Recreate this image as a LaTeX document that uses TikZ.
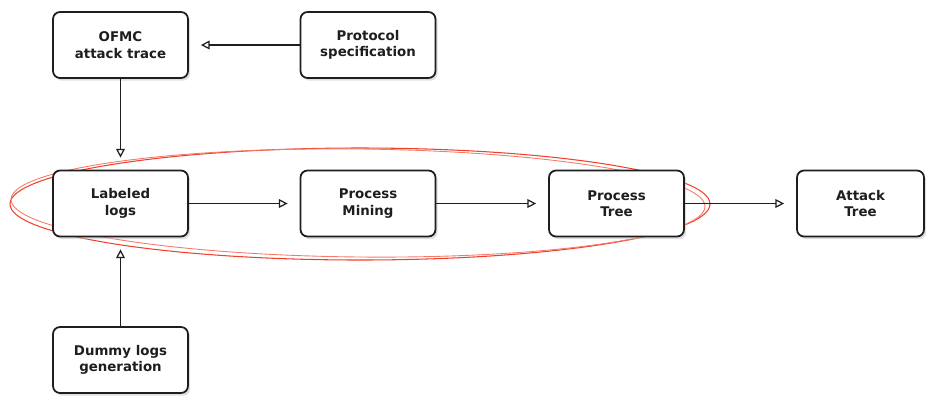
\documentclass[tikz,border=0pt]{standalone}
\usepackage{fontspec}
\setmainfont{DejaVu Sans}
\usetikzlibrary{arrows.meta, shadows}
\definecolor{PipeRed}{HTML}{F0412B}
\definecolor{PipeInk}{HTML}{1E1E1E}

\tikzset{
  stagebox/.style={draw=PipeInk, line width=1pt, rounded corners=4pt, fill=white,
    minimum width=2.7cm, minimum height=1.32cm, align=center,
    font=\fontsize{7.6}{9.4}\selectfont\bfseries, text=PipeInk,
    drop shadow={shadow xshift=1.2pt, shadow yshift=-1.5pt, fill=black!25, opacity=0.5}},
  flow/.style={draw=PipeInk, line width=0.7pt, shorten >=0.24cm,
    -{Triangle[open, length=5pt, width=5pt]}}
}

\begin{document}
\begin{tikzpicture}[x=0.02cm, y=-0.02cm]
  \useasboundingbox (0,0) rectangle (926,397);
  %% Highlight round the core pipeline (two loose strokes)
  \draw[PipeRed, line width=0.6pt] (360,204) ellipse [x radius=350, y radius=56];
  \draw[PipeRed!70, line width=0.5pt, rotate around={-0.6:(360,204)}] (358,203) ellipse [x radius=347, y radius=54];
  %% Stages
  \node[stagebox] (ofmc) at (120.5,45) {OFMC\\attack trace};
  \node[stagebox] (spec) at (368,45) {Protocol\\specification};
  \node[stagebox] (labeled) at (120.5,203.5) {Labeled\\logs};
  \node[stagebox] (mining) at (368,203.5) {Process\\Mining};
  \node[stagebox] (ptree) at (616.5,203.5) {Process\\Tree};
  \node[stagebox, minimum width=2.54cm] (atree) at (860.5,203.5) {Attack\\Tree};
  \node[stagebox] (dummy) at (120.5,360) {Dummy logs\\generation};
  %% Connectors
  \draw[flow] (spec) -- (ofmc);
  \draw[flow] (ofmc) -- (labeled);
  \draw[flow] (dummy) -- (labeled);
  \draw[flow] (labeled) -- (mining);
  \draw[flow] (mining) -- (ptree);
  \draw[flow] (ptree) -- (atree);
\end{tikzpicture}
\end{document}
